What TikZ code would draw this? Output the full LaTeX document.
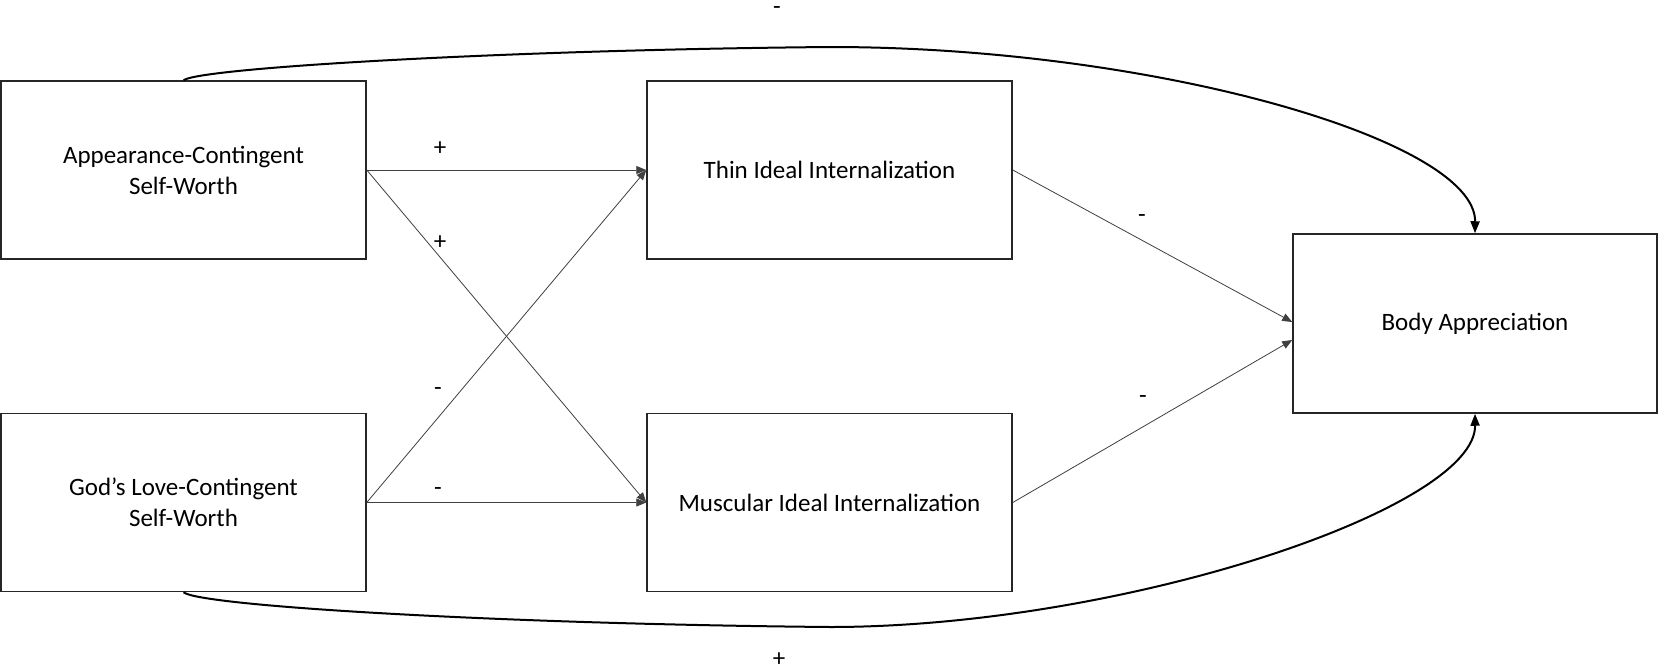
\documentclass[tikz,border=0pt]{standalone}
\usepackage{fontspec}
\setmainfont{Carlito}
\usetikzlibrary{arrows.meta}
\begin{document}
\begin{tikzpicture}[x=1pt,y=-1pt,
  box/.style={draw=black!85,line width=1.5pt,minimum width=365pt,minimum height=178pt,inner sep=0pt,align=center,font=\fontsize{25}{31}\selectfont},
  pathline/.style={draw=black!75,line width=0.8pt,-{Triangle[length=10pt,width=8pt]}},
  curveline/.style={draw=black,line width=2pt,-{Triangle[length=12pt,width=9pt]}},
  lab/.style={font=\fontsize{25}{31}\selectfont,inner sep=0pt}]
\useasboundingbox[fill=white] (0,0) rectangle (1658,670);
\node[box] (A) at (183.5,170) {Appearance-Contingent\\Self-Worth};
\node[box] (G) at (183.5,502.5) {God’s Love-Contingent\\Self-Worth};
\node[box] (T) at (829.5,170) {Thin Ideal Internalization};
\node[box] (M) at (829.5,502.5) {Muscular Ideal Internalization};
\node[box,minimum width=364pt,minimum height=179pt] (B) at (1475,323.5) {Body Appreciation};
\coordinate (b1) at ([yshift=1.5pt]B.west);
\coordinate (b2) at ([yshift=-16.5pt]B.west);
\coordinate (tm) at (830,47);
\coordinate (bm) at (830,627);
\draw[pathline] (A.east) -- (T.west);
\draw[pathline] (A.east) -- (M.west);
\draw[pathline] (G.east) -- (T.west);
\draw[pathline] (G.east) -- (M.west);
\draw[pathline] (T.east) -- (b1);
\draw[pathline] (M.east) -- (b2);
\draw[curveline] (A.north) .. controls (200,68) and (500,50) .. (tm) .. controls (1153,47) and (1476,140) .. (B.north);
\draw[curveline] (G.south) .. controls (200,606) and (500,624) .. (bm) .. controls (1121,627) and (1476,509) .. (B.south);
\node[lab] (l1) at (777,11) {-};
\node[lab] (l2) at (440,149) {+};
\node[lab] (l3) at (440,243) {+};
\node[lab] (l4) at (438,392) {-};
\node[lab] (l5) at (438,492) {-};
\node[lab] (l6) at (1142,219) {-};
\node[lab] (l7) at (1143,400) {-};
\node[lab] (l8) at (779,660) {+};
\end{tikzpicture}
\end{document}
